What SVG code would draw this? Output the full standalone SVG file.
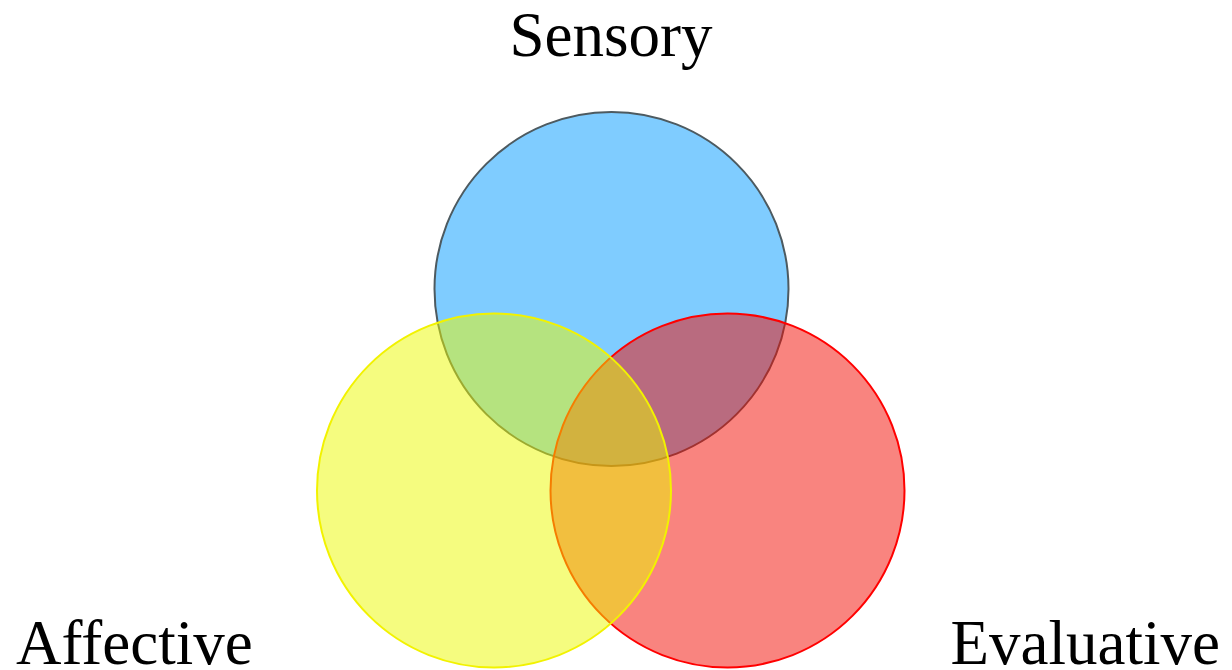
<svg xmlns="http://www.w3.org/2000/svg" width="1232" height="670" viewBox="0 0 1232 670">
<style>
.lbl{font-family:"Liberation Serif","Times New Roman",serif;font-size:63px;fill:#000}
.c{stroke-width:2}
</style>
<rect width="1232" height="670" fill="#fff"/>
<g id="sensory">
<circle class="c" cx="611.5" cy="289" r="177" fill="#0099FF" fill-opacity="0.5" stroke="#4d5a60"/>
<text class="lbl" x="611" y="56" text-anchor="middle">Sensory</text>
</g>
<g id="evaluative">
<circle class="c" cx="727.5" cy="490.5" r="177" fill="#F30A00" fill-opacity="0.5" stroke="#FF0000"/>
<text class="lbl" x="1220" y="664" text-anchor="end">Evaluative</text>
</g>
<g id="affective">
<circle class="c" cx="494" cy="490.5" r="177" fill="#ECFA00" fill-opacity="0.5" stroke="#F2F200"/>
<text class="lbl" x="16" y="664">Affective</text>
</g>
<g id="connectors"/>
</svg>
